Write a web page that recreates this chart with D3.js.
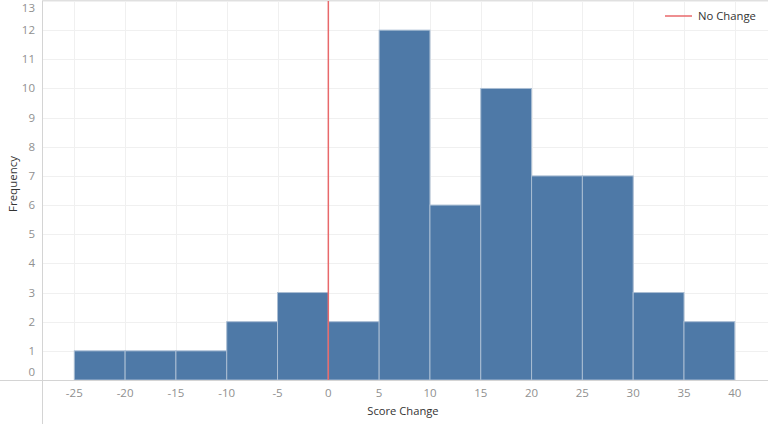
<!DOCTYPE html>
<html>
<head>
<meta charset="utf-8">
<script src="https://cdn.jsdelivr.net/npm/d3@7"></script>
<style>
  body { margin: 0; background: #fff; }
  svg { display: block; font-family: "Open Sans", "Noto Sans", sans-serif; }
</style>
</head>
<body>
<div id="chart"></div>
<script>
// Histogram bins (lower edge, width 5) and their counts
const binStarts = [-25, -20, -15, -10, -5, 0, 5, 10, 15, 20, 25, 30, 35];
const binCounts = [1, 1, 1, 2, 3, 2, 12, 6, 10, 7, 7, 3, 2];
const binWidth = 5;
const xTicks = [-25, -20, -15, -10, -5, 0, 5, 10, 15, 20, 25, 30, 35, 40];
const yTicks = [0, 1, 2, 3, 4, 5, 6, 7, 8, 9, 10, 11, 12, 13];
const refValue = 0;

const width = 768, height = 424;
const plotLeft = 42, plotBottom = 380, plotTop = 1;

const svg = d3.select('#chart')
    .append('svg')
    .attr('width', width)
    .attr('height', height);

// Scales
const xScale = d3.scaleLinear().domain([-25, 40]).range([74.3, 734.8]);
const yScale = d3.scaleLinear().domain([0, 13]).range([plotBottom, plotTop]);

// Gridlines
svg.append('g')
    .selectAll('line')
    .data(yTicks.filter(d => d > 0))
    .join('line')
    .attr('x1', plotLeft).attr('x2', width)
    .attr('y1', d => Math.round(yScale(d)) + 0.5)
    .attr('y2', d => Math.round(yScale(d)) + 0.5)
    .attr('stroke', '#f0f0f0');

svg.append('g')
    .selectAll('line')
    .data(xTicks)
    .join('line')
    .attr('x1', d => Math.round(xScale(d)) + 0.5)
    .attr('x2', d => Math.round(xScale(d)) + 0.5)
    .attr('y1', 0).attr('y2', plotBottom)
    .attr('stroke', '#f0f0f0');

// Bars
svg.append('g')
    .selectAll('rect')
    .data(binStarts.map((s, i) => ({ start: s, count: binCounts[i] })))
    .join('rect')
    .attr('x', d => xScale(d.start))
    .attr('width', d => xScale(d.start + binWidth) - xScale(d.start))
    .attr('y', d => yScale(d.count))
    .attr('height', d => yScale(0) - yScale(d.count))
    .attr('fill', '#4e79a7')
    .attr('stroke', '#a9bdd3')
    .attr('stroke-width', 1);

// Reference line
svg.append('line')
    .attr('x1', xScale(refValue)).attr('x2', xScale(refValue))
    .attr('y1', 0).attr('y2', plotBottom)
    .attr('stroke', '#e8696b')
    .attr('stroke-width', 1.5);

// Axis frame
svg.append('line')
    .attr('x1', plotLeft + 0.5).attr('x2', plotLeft + 0.5)
    .attr('y1', 0).attr('y2', height)
    .attr('stroke', '#d4d4d4');
svg.append('line')
    .attr('x1', 0).attr('x2', width)
    .attr('y1', plotBottom + 0.5).attr('y2', plotBottom + 0.5)
    .attr('stroke', '#d4d4d4');
svg.append('line')
    .attr('x1', plotLeft).attr('x2', width)
    .attr('y1', 0.5).attr('y2', 0.5)
    .attr('stroke', '#e0e0e0');

// Y tick labels
svg.append('g')
    .selectAll('text')
    .data(yTicks)
    .join('text')
    .attr('x', 35)
    .attr('y', d => d === 0 ? 372 : d === 13 ? 8 : yScale(d))
    .attr('dy', '0.35em')
    .attr('text-anchor', 'end')
    .attr('font-size', 11.5)
    .attr('fill', '#909090')
    .text(d => d);

// X tick labels
svg.append('g')
    .selectAll('text')
    .data(xTicks)
    .join('text')
    .attr('x', d => xScale(d))
    .attr('y', 393)
    .attr('dy', '0.35em')
    .attr('text-anchor', 'middle')
    .attr('font-size', 11.5)
    .attr('fill', '#909090')
    .text(d => d);

// Axis titles
svg.append('text')
    .attr('x', 403)
    .attr('y', 411)
    .attr('dy', '0.35em')
    .attr('text-anchor', 'middle')
    .attr('font-size', 11.2)
    .attr('fill', '#333')
    .text('Score Change');

svg.append('text')
    .attr('transform', 'translate(13,184) rotate(-90)')
    .attr('dy', '0.35em')
    .attr('text-anchor', 'middle')
    .attr('font-size', 11.5)
    .attr('fill', '#333')
    .text('Frequency');

// Legend
svg.append('line')
    .attr('x1', 665).attr('x2', 692)
    .attr('y1', 16).attr('y2', 16)
    .attr('stroke', '#e8696b')
    .attr('stroke-width', 1.5);
svg.append('text')
    .attr('x', 698)
    .attr('y', 16)
    .attr('dy', '0.35em')
    .attr('font-size', 11.3)
    .attr('fill', '#333')
    .text('No Change');
</script>
</body>
</html>
